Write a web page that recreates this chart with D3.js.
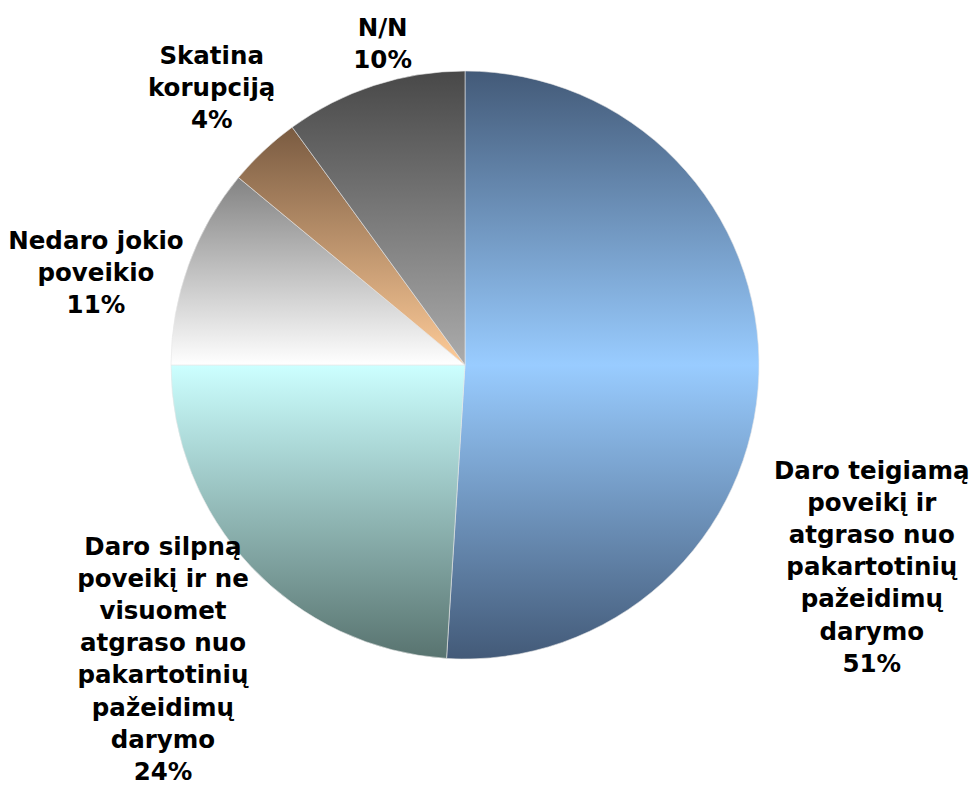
<!DOCTYPE html>
<html>
<head>
<meta charset="utf-8">
<script src="https://cdn.jsdelivr.net/npm/d3@7"></script>
<style>
  body { margin: 0; background: #fff; }
  svg text { font-family: "DejaVu Sans", Verdana, sans-serif; font-weight: bold; font-size: 24.5px; fill: #000; }
</style>
</head>
<body>
<div id="chart"></div>
<script>
// data
const categories = [
  "Daro teigiamą poveikį ir atgraso nuo pakartotinių pažeidimų darymo",
  "Daro silpną poveikį ir ne visuomet atgraso nuo pakartotinių pažeidimų darymo",
  "Nedaro jokio poveikio",
  "Skatina korupciją",
  "N/N"
];
const values = [51, 24, 11, 4, 10];
// label lines as they wrap in the picture
const labelLines = [
  ["Daro teigiamą", "poveikį ir", "atgraso nuo", "pakartotinių", "pažeidimų", "darymo"],
  ["Daro silpną", "poveikį ir ne", "visuomet", "atgraso nuo", "pakartotinių", "pažeidimų", "darymo"],
  ["Nedaro jokio", "poveikio"],
  ["Skatina", "korupciją"],
  ["N/N"]
];

// styles: [light (centre), dark (edge)]
const sliceColors = [
  ["#99ccff", "#435a78"],
  ["#ccffff", "#58736f"],
  ["#ffffff", "#3c3c3c"],
  ["#ffcc99", "#5a402c"],
  ["#acacac", "#484848"]
];

const width = 971, height = 785;
const cx = 465, cy = 365, r = 294;
const lineH = 32.2;
// label block position: nudge from an outer-arc centroid
const labelR = r + 60;
const labelNudge = [[53, 190], [-44, 51], [-36, 27], [-11, -20], [27, 15]];

const svg = d3.select("#chart").append("svg")
    .attr("width", width)
    .attr("height", height);

const defs = svg.append("defs");
sliceColors.forEach((c, i) => {
    // vertical gradient over the whole pie, in the pie group's coordinates
    const g = defs.append("linearGradient")
        .attr("id", "grad" + i)
        .attr("gradientUnits", "userSpaceOnUse")
        .attr("x1", 0).attr("x2", 0)
        .attr("y1", -r).attr("y2", r);
    g.append("stop").attr("offset", 0).attr("stop-color", c[1]);
    g.append("stop").attr("offset", 0.5).attr("stop-color", c[0]);
    g.append("stop").attr("offset", 1).attr("stop-color", c[1]);
});

const pie = d3.pie().sort(null).value(d => d);
const arcs = pie(values);
const arc = d3.arc().innerRadius(0).outerRadius(r);
const outerArc = d3.arc().innerRadius(labelR).outerRadius(labelR);

const g = svg.append("g").attr("transform", `translate(${cx},${cy})`);

g.selectAll("path")
    .data(arcs)
    .enter().append("path")
    .attr("d", arc)
    .attr("fill", (d, i) => `url(#grad${i})`)
    .attr("stroke", "#e6e6e6")
    .attr("stroke-width", 0.6);

// labels
arcs.forEach((d, i) => {
    const c = outerArc.centroid(d);
    const x = c[0] + labelNudge[i][0];
    const yMid = c[1] + labelNudge[i][1];
    const lines = labelLines[i].concat([values[i] + "%"]);
    const y0 = yMid - (lines.length - 1) * lineH / 2 + 9;
    const t = g.append("text")
        .attr("text-anchor", "middle")
        .attr("x", x)
        .attr("y", y0);
    lines.forEach((ln, j) => {
        t.append("tspan")
            .attr("x", x)
            .attr("y", y0 + j * lineH)
            .text(ln);
    });
});
</script>
</body>
</html>
